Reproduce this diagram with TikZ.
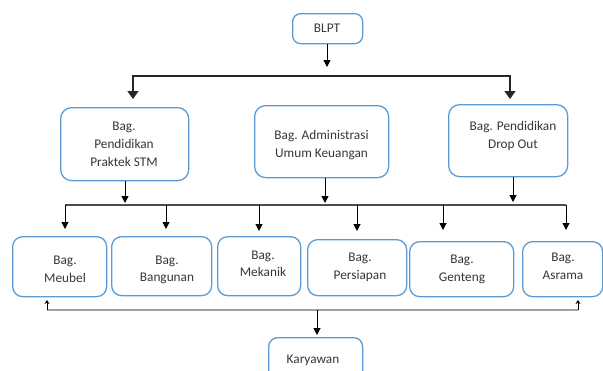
\documentclass[tikz,border=0pt]{standalone}
\usepackage{fontspec}
\setmainfont{Carlito}
\usetikzlibrary{arrows.meta,calc}
\definecolor{boxblue}{RGB}{91,155,213}
\definecolor{txtgray}{RGB}{55,55,55}
\definecolor{busgray}{RGB}{160,160,160}
\begin{document}
\begin{tikzpicture}[x=1pt,y=-1pt,
  box/.style={draw=boxblue,line width=1.3pt,rounded corners=11pt,fill=white,inner sep=0pt,anchor=north west},
  lbl/.style={font=\fontsize{13.3}{18}\selectfont,align=center,text=txtgray,inner sep=0pt},
  lbls/.style={font=\fontsize{13.3}{17.5}\selectfont,align=center,text=txtgray,inner sep=0pt},
  bigarr/.style={line width=1.5pt,draw=black!85,{Triangle[width=11pt,length=8pt]}-{Triangle[width=11pt,length=8pt]}},
  midarr/.style={line width=1pt,-{Triangle[width=7pt,length=7pt]}},
  smallarr/.style={line width=0.9pt,-{Stealth[width=5pt,length=4pt]}},
  bus/.style={line width=1.2pt,draw=black!70},
  lowbus/.style={line width=1.3pt,draw=busgray}]
\useasboundingbox (0,0) rectangle (603,370);
\clip (0,0) rectangle (603,370);
\fill[white] (0,0) rectangle (603,370);

% boxes
\node[box,rounded corners=8pt,minimum width=70pt,minimum height=30pt] (blpt) at (292,13) {};
\node[box,minimum width=128pt,minimum height=73pt] (b1) at (60,107) {};
\node[box,minimum width=134pt,minimum height=72pt] (b2) at (254,105) {};
\node[box,minimum width=119pt,minimum height=72pt] (b3) at (448,104) {};
\node[box,rounded corners=10pt,minimum width=94pt,minimum height=60pt] (meubel) at (12,236) {};
\node[box,rounded corners=10pt,minimum width=100pt,minimum height=59pt] (bangunan) at (111,236) {};
\node[box,rounded corners=10pt,minimum width=83pt,minimum height=59pt] (mekanik) at (217,236) {};
\node[box,rounded corners=10pt,minimum width=99pt,minimum height=56pt] (persiapan) at (307,239) {};
\node[box,rounded corners=10pt,minimum width=104pt,minimum height=55pt] (genteng) at (409,241) {};
\node[box,rounded corners=10pt,minimum width=80pt,minimum height=55pt] (asrama) at (522,241) {};
\node[box,rounded corners=9pt,minimum width=94pt,minimum height=50pt] (karyawan) at (268,337) {};

% labels
\node[lbl] (tblpt) at (327,28) {BLPT};
\node[lbl] (tb1) at (124,144) {Bag.\\Pendidikan\\Praktek STM};
\node[lbl] (tb2) at (321.5,145) {Bag. Administrasi\\Umum Keuangan};
\node[lbl] (tb3) at (513,136) {Bag. Pendidikan\\Drop Out};
\node[lbls] (tmeubel) at (65,269.5) {Bag.\\Meubel};
\node[lbls] (tbangunan) at (167,270) {Bag.\\Bangunan};
\node[lbls] (tmekanik) at (263,264) {Bag.\\Mekanik};
\node[lbls] (tpersiapan) at (360,267.5) {Bag.\\Persiapan};
\node[lbls] (tgenteng) at (462,269.5) {Bag.\\Genteng};
\node[lbls] (tasrama) at (563,266.5) {Bag.\\Asrama};
\node[lbl] (tkaryawan) at (313,360) {Karyawan};

% junction coordinates
\coordinate (t1) at (133,99);
\coordinate (t3) at (510,99);
\coordinate (tmid) at (327,76);
\coordinate (m1) at (125,203);
\coordinate (m2) at (325,203);
\coordinate (m3) at (513,202);
\coordinate (s1) at (65,229);
\coordinate (s2) at (166,229);
\coordinate (s3) at (259,231);
\coordinate (s4) at (357,231);
\coordinate (s5) at (443,230);
\coordinate (s6) at (566,230);
\coordinate (u1) at (47,300);
\coordinate (u2) at (578,300);
\coordinate (k1) at (317,335);

% BLPT to top bus
\draw[midarr] (blpt.south -| tmid) -- ($(tmid)+(0,-9)$);
\draw[bigarr] (t1) |- (tmid) -| (t3);

% level 1 boxes down to second bus
\draw[midarr] (b1.south -| m1) -- (m1);
\draw[midarr] (b2.south -| m2) -- (m2);
\draw[midarr] (b3.south -| m3) -- (m3);
\draw[bus] (65,205) -- (566,205);
\foreach \c in {s1,s2,s3,s4,s5,s6}{
  \draw[midarr] (\c |- 0,205) -- (\c);
}

% bottom bus
\draw[lowbus] (u1 |- 0,310) -- (u2 |- 0,310);
\draw[smallarr] (u1 |- 0,310) -- (u1);
\draw[smallarr] (u2 |- 0,310) -- (u2);
\draw[midarr] (k1 |- 0,310) -- (k1);
\end{tikzpicture}
\end{document}
